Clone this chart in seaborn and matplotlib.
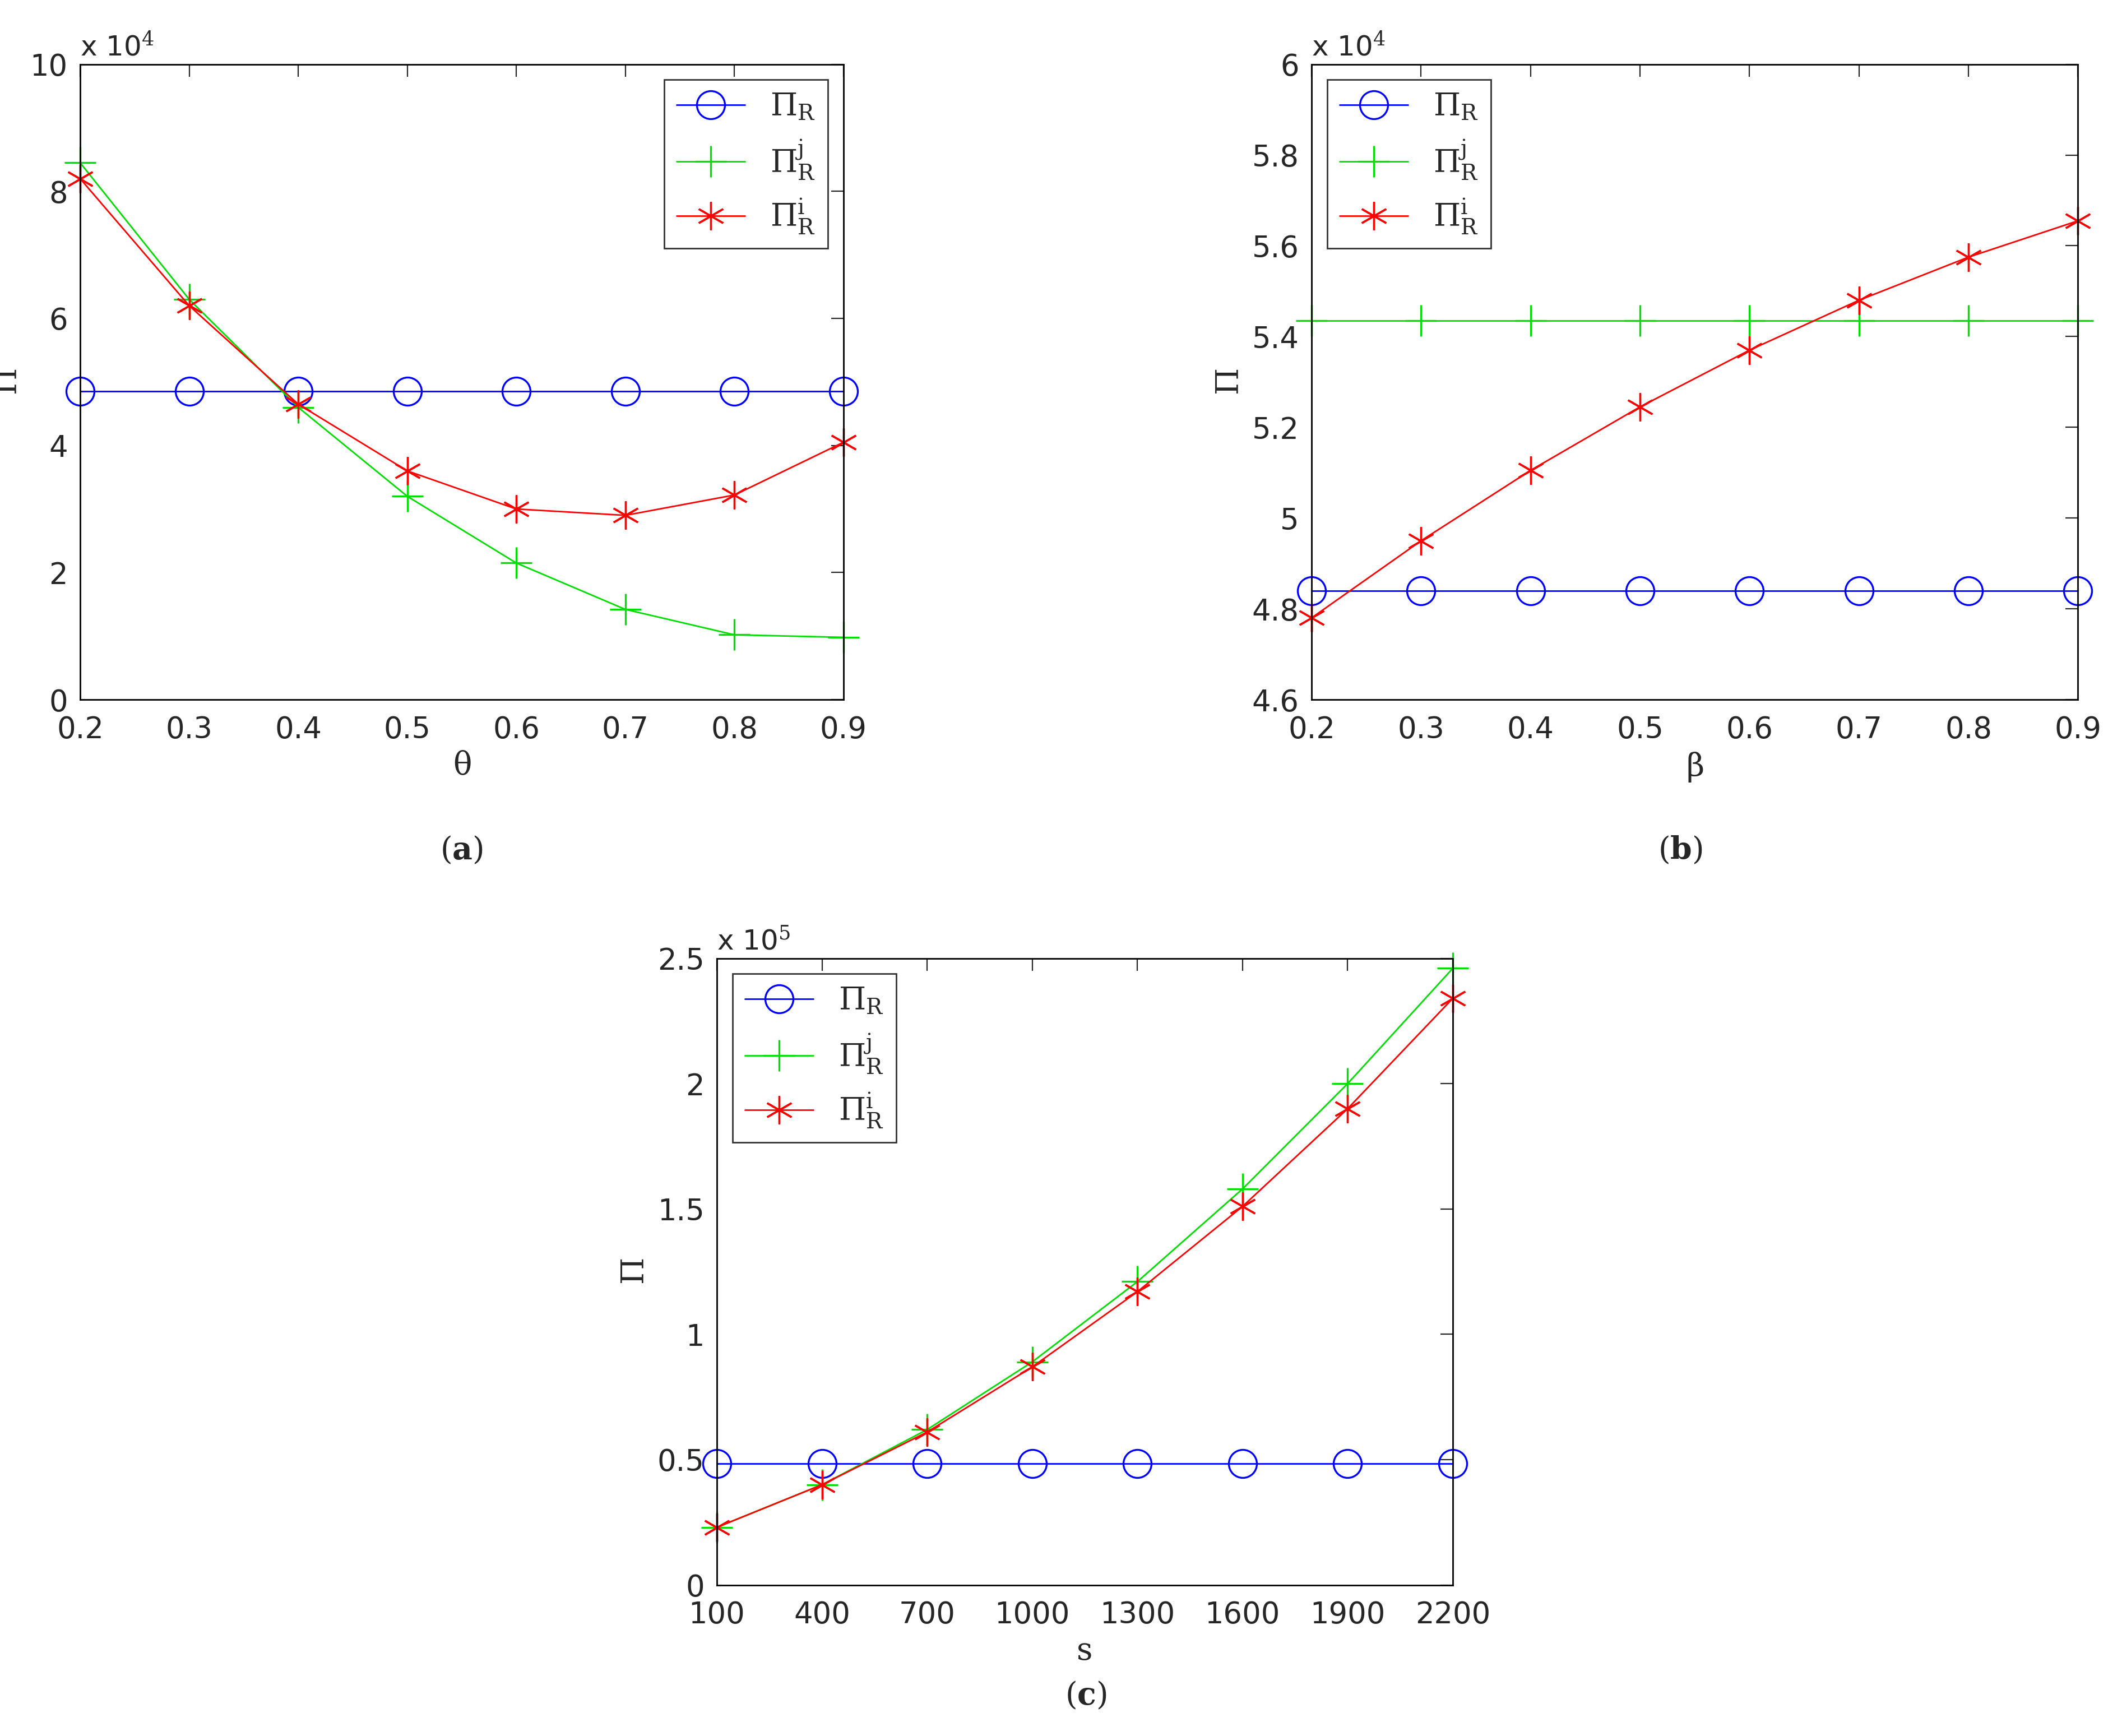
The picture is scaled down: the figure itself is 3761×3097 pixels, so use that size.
import numpy as np
import pandas as pd
import matplotlib
matplotlib.use("Agg")
import matplotlib.pyplot as plt
from matplotlib.ticker import FuncFormatter
import seaborn as sns

theta = [0.2, 0.3, 0.4, 0.5, 0.6, 0.7, 0.8, 0.9]
a_R = [4.85e4] * 8
a_Rj = [8.45e4, 6.3e4, 4.6e4, 3.2e4, 2.15e4, 1.42e4, 1.02e4, 0.98e4]
a_Ri = [8.2e4, 6.2e4, 4.65e4, 3.6e4, 3.0e4, 2.9e4, 3.22e4, 4.05e4]

beta = [0.2, 0.3, 0.4, 0.5, 0.6, 0.7, 0.8, 0.9]
b_R = [4.84e4] * 8
b_Rj = [5.435e4] * 8
b_Ri = [4.78e4, 4.95e4, 5.105e4, 5.245e4, 5.37e4, 5.48e4, 5.575e4, 5.655e4]

s_vals = [100, 400, 700, 1000, 1300, 1600, 1900, 2200]
c_R = [0.485e5] * 8
c_Rj = [0.23e5, 0.40e5, 0.62e5, 0.89e5, 1.21e5, 1.58e5, 2.0e5, 2.46e5]
c_Ri = [0.23e5, 0.40e5, 0.61e5, 0.87e5, 1.17e5, 1.51e5, 1.90e5, 2.34e5]

sns.set_style("white")
plt.rcParams['font.family'] = ['DejaVu Sans']
plt.rcParams['mathtext.fontset'] = 'dejavuserif'

fig = plt.figure(figsize=(18.81, 15.485), dpi=200)
ax_a = fig.add_axes([0.038, 0.597, 0.362, 0.366])
ax_b = fig.add_axes([0.622, 0.597, 0.3635, 0.366])
ax_c = fig.add_axes([0.340, 0.087, 0.349, 0.361])


def panel(ax, x, r, rj, ri, xlabel, ylim, yticks, scale, exp, xticks, xfmt, legloc):
    sns.lineplot(x=x, y=r, ax=ax, color='blue', marker='o', markersize=18,
                 markerfacecolor='none', markeredgecolor='blue', markeredgewidth=1.2,
                 lw=1, label=r'$\mathrm{\Pi_R}$', clip_on=False)
    sns.lineplot(x=x, y=rj, ax=ax, color='#00dd00', marker='+', markersize=20,
                 markeredgecolor='#00dd00', markeredgewidth=1.2, lw=1,
                 label=r'$\mathrm{\Pi_R^j}$', clip_on=False)
    sns.lineplot(x=x, y=ri, ax=ax, color='red', marker=(6, 2, 0), markersize=18,
                 markeredgecolor='red', markeredgewidth=1.2, lw=1,
                 label=r'$\mathrm{\Pi_R^i}$', clip_on=False)
    ax.set_xlim(x[0], x[-1])
    ax.set_ylim(*ylim)
    ax.set_xticks(xticks)
    ax.set_xticklabels([xfmt(v) for v in xticks])
    ax.set_yticks(yticks)
    ax.yaxis.set_major_formatter(FuncFormatter(lambda v, p: ('%g' % round(v / scale, 4))))
    ax.tick_params(direction='in', labelsize=19, length=8, top=True, right=True)
    ax.tick_params(axis='x', pad=10)
    ax.tick_params(axis='y', pad=8)
    for sp in ax.spines.values():
        sp.set_color('black')
        sp.set_linewidth(1)
    ax.set_xlabel(xlabel, fontsize=20, family='DejaVu Serif')
    ax.set_ylabel(r'$\mathrm{\Pi}$', fontsize=20)
    ax.text(0.0, 1.005, r'x 10$^{%d}$' % exp, transform=ax.transAxes, fontsize=18,
            va='bottom', ha='left')
    leg = ax.legend(loc=legloc, fontsize=20, frameon=True, fancybox=False,
                    handlelength=2.2, borderaxespad=0.5)
    leg.get_frame().set_edgecolor('black')


panel(ax_a, theta, a_R, a_Rj, a_Ri, r'$\mathrm{\theta}$', (0, 10e4), np.arange(0, 10.1e4, 2e4), 1e4, 4,
      theta, lambda v: '%g' % v, 'upper right')
panel(ax_b, beta, b_R, b_Rj, b_Ri, r'$\mathrm{\beta}$', (4.6e4, 6e4), np.arange(4.6e4, 6.01e4, 0.2e4), 1e4, 4,
      beta, lambda v: '%g' % v, 'upper left')
panel(ax_c, s_vals, c_R, c_Rj, c_Ri, 's', (0, 2.5e5), np.arange(0, 2.51e5, 0.5e5), 1e5, 5,
      s_vals, lambda v: '%d' % v, 'upper left')

fig.text(0.219, 0.505, r'($\mathbf{a}$)', fontsize=20, ha='center', family='DejaVu Serif')
fig.text(0.797, 0.505, r'($\mathbf{b}$)', fontsize=20, ha='center', family='DejaVu Serif')
fig.text(0.515, 0.018, r'($\mathbf{c}$)', fontsize=20, ha='center', family='DejaVu Serif')

fig.savefig("out.png", dpi=200)
